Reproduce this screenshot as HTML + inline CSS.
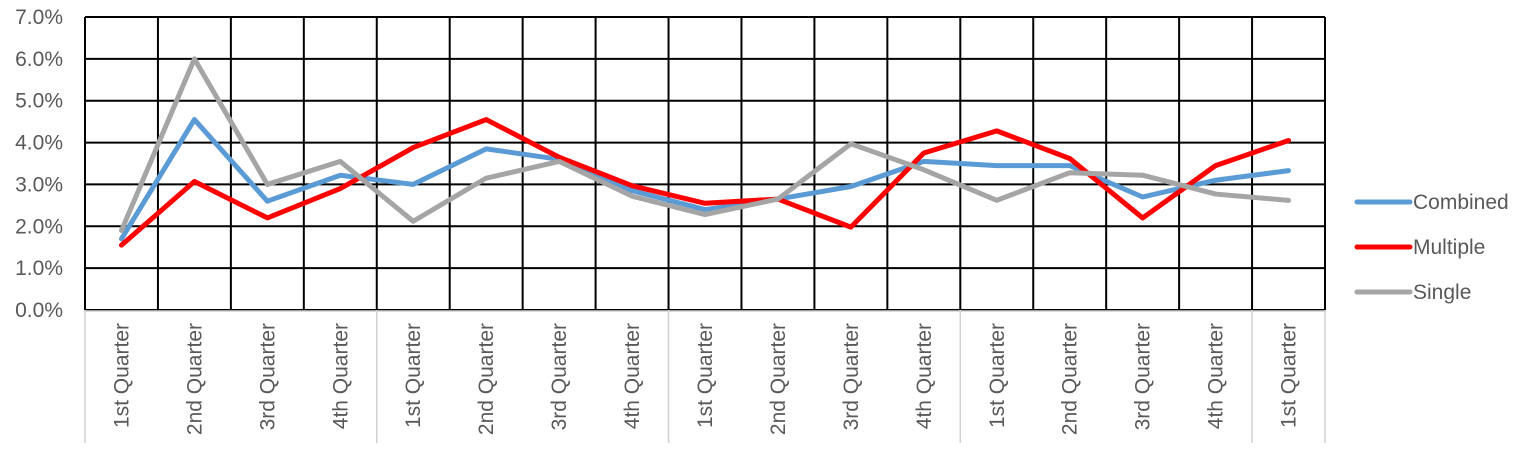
<!DOCTYPE html>
<html><head><meta charset="utf-8"><style>
body{margin:0;background:#fff;}
svg{display:block;font-family:"Liberation Sans",sans-serif;}
</style></head><body>
<svg id="chart" width="1535" height="459" viewBox="0 0 1535 459" xmlns="http://www.w3.org/2000/svg">
<g id="grid"></g>
<g id="axes"></g>
<g id="series"></g>
<g id="legend"></g>
</svg>
<script>
const categories=["1st Quarter","2nd Quarter","3rd Quarter","4th Quarter","1st Quarter","2nd Quarter","3rd Quarter","4th Quarter","1st Quarter","2nd Quarter","3rd Quarter","4th Quarter","1st Quarter","2nd Quarter","3rd Quarter","4th Quarter","1st Quarter"];
const combined=[1.7,4.55,2.6,3.22,3.0,3.85,3.6,2.85,2.4,2.65,2.95,3.55,3.45,3.45,2.7,3.1,3.33];
const multiple=[1.55,3.07,2.2,2.9,3.88,4.55,3.65,2.97,2.55,2.65,1.98,3.75,4.28,3.62,2.2,3.45,4.05];
const single=[1.9,6.0,3.0,3.55,2.12,3.15,3.55,2.72,2.28,2.65,3.97,3.35,2.62,3.28,3.22,2.77,2.62];
const yTicks=[0,1,2,3,4,5,6,7];
const seriesNames=["Combined","Multiple","Single"];
const seriesColors=["#5b9bd5","#ff0000","#a5a5a5"];

const NS="http://www.w3.org/2000/svg";
const L=85,R=1325,T=17,B=310,yMax=7;
const bw=(R-L)/categories.length;
const xC=i=>L+bw*(i+0.5);
const xE=i=>L+bw*i;
const y=v=>B-(v/yMax)*(B-T);
function mk(tag,attrs,parent){const e=document.createElementNS(NS,tag);for(const k in attrs)e.setAttribute(k,attrs[k]);parent.appendChild(e);return e;}
const grid=document.getElementById('grid'),axes=document.getElementById('axes'),ser=document.getElementById('series'),leg=document.getElementById('legend');

yTicks.forEach(t=>{
  const ln=mk('line',{x1:L,x2:R,y1:y(t),y2:y(t),stroke:'#000','stroke-width':2},grid);
  
  
  const tx=mk('text',{x:63,y:y(t)+7,'text-anchor':'end','font-size':21,fill:'#595959'},axes);
  tx.textContent=t.toFixed(1)+'%';
  
  
});
for(let i=0;i<=categories.length;i++){
  const ln=mk('line',{x1:xE(i),x2:xE(i),y1:T,y2:B,stroke:'#000','stroke-width':2},grid);
  
  
  if(i%4===0||i===categories.length){
    const g=mk('line',{x1:xE(i),x2:xE(i),y1:B,y2:443,stroke:'#d0d0d0','stroke-width':1.5},axes);
    
    
  }
}
const base=mk('line',{x1:L,x2:R,y1:B+1,y2:B+1,stroke:'#d0d0d0','stroke-width':1.5},axes);


categories.forEach((c,i)=>{
  const tx=mk('text',{x:0,y:0,'text-anchor':'end','font-size':21,fill:'#595959',transform:`translate(${xC(i)+7},323) rotate(-90)`},axes);
  tx.textContent=c;
  
  
});
[combined,multiple,single].forEach((d,s)=>{
  const p=mk('polyline',{points:d.map((v,i)=>xC(i)+','+y(v)).join(' '),fill:'none',stroke:seriesColors[s],'stroke-width':5,'stroke-linejoin':'round','stroke-linecap':'round'},ser);
  
  
  const ly=202+s*45;
  const g=mk('g',{},leg);
  
  
  mk('line',{x1:1357,x2:1410,y1:ly,y2:ly,stroke:seriesColors[s],'stroke-width':5,'stroke-linecap':'round'},g);
  const t=mk('text',{x:1413,y:ly+7,'font-size':21,fill:'#595959'},g);
  t.textContent=seriesNames[s];
});
</script>
</body></html>
